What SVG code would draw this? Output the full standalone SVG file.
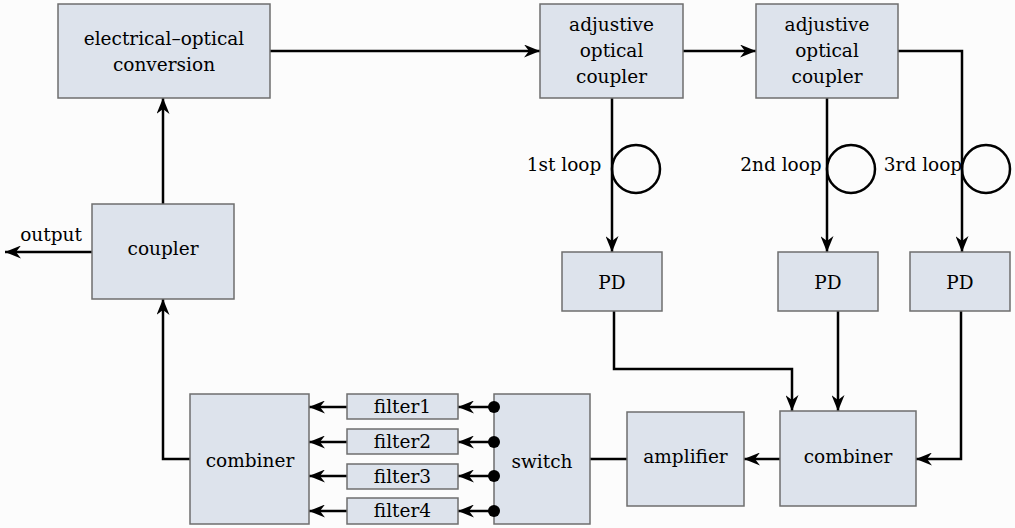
<svg xmlns="http://www.w3.org/2000/svg" width="1015" height="528" viewBox="0 0 1015 528">
  <style>
    .box { fill: #dde3ec; stroke: #6e6e6e; stroke-width: 1.5; }
    .lbl { font-family: 'DejaVu Serif', 'Liberation Serif', serif; font-size: 18.5px; fill: #000; text-anchor: middle; }
    .wire { fill: none; stroke: #000; stroke-width: 2.5; stroke-linejoin: miter; }
    .arr { marker-end: url(#head); }
    .loop { fill: none; stroke: #000; stroke-width: 2.5; }
    .dot { fill: #000; }
  </style>
  <defs>
    <marker id="head" markerUnits="userSpaceOnUse" markerWidth="17" markerHeight="13" refX="16" refY="6.5" orient="auto">
      <path d="M0,0 L16,6.5 L0,13 L5,6.5 Z" fill="#000"/>
    </marker>
  </defs>
  <rect x="0" y="0" width="1015" height="528" fill="#fcfcfc"/>

  <!-- connectors -->
  <g id="connectors">
    <path class="wire arr" d="M270,51 H540"/>
    <path class="wire arr" d="M683,51 H756"/>
    <path class="wire arr" d="M898,51 H962 V252"/>
    <path class="wire arr" d="M612,98 V252"/>
    <path class="wire arr" d="M827,98 V252"/>
    <circle class="loop" cx="636" cy="169" r="24"/>
    <circle class="loop" cx="851" cy="169" r="24"/>
    <circle class="loop" cx="986" cy="169" r="24"/>
    <path class="wire arr" d="M614,311 V369 H792 V411"/>
    <path class="wire arr" d="M838,311 V411"/>
    <path class="wire arr" d="M961,311 V459 H916"/>
    <path class="wire arr" d="M780,459 H744"/>
    <path class="wire" d="M627,459 H590"/>
    <path class="wire arr" d="M590,459 L500,410"/>
    <path class="wire arr" d="M494,407 H458"/>
    <path class="wire arr" d="M494,442 H458"/>
    <path class="wire arr" d="M494,476 H458"/>
    <path class="wire arr" d="M494,511 H458"/>
    <path class="wire arr" d="M347,407 H309"/>
    <path class="wire arr" d="M347,442 H309"/>
    <path class="wire arr" d="M347,476 H309"/>
    <path class="wire arr" d="M347,511 H309"/>
    <path class="wire arr" d="M190,459 H163 V299"/>
    <path class="wire arr" d="M163,204 V98"/>
    <path class="wire arr" d="M92,252 H5"/>
    <text class="lbl" x="51" y="241">output</text>
    <text class="lbl" x="564" y="171">1st loop</text>
    <text class="lbl" x="781" y="171">2nd loop</text>
    <text class="lbl" x="923" y="171">3rd loop</text>
  </g>

  <g id="eo-conversion">
    <rect class="box" x="58" y="4" width="212" height="94"/>
    <text class="lbl" x="164" y="45">electrical–optical</text>
    <text class="lbl" x="164" y="71">conversion</text>
  </g>
  <g id="adj-coupler-1">
    <rect class="box" x="540" y="4" width="143" height="94"/>
    <text class="lbl" x="611.5" y="31">adjustive</text>
    <text class="lbl" x="611.5" y="57">optical</text>
    <text class="lbl" x="611.5" y="83">coupler</text>
  </g>
  <g id="adj-coupler-2">
    <rect class="box" x="756" y="4" width="142" height="94"/>
    <text class="lbl" x="827" y="31">adjustive</text>
    <text class="lbl" x="827" y="57">optical</text>
    <text class="lbl" x="827" y="83">coupler</text>
  </g>
  <g id="pd-1">
    <rect class="box" x="562" y="252" width="100" height="59"/>
    <text class="lbl" x="612" y="289">PD</text>
  </g>
  <g id="pd-2">
    <rect class="box" x="778" y="252" width="100" height="59"/>
    <text class="lbl" x="828" y="289">PD</text>
  </g>
  <g id="pd-3">
    <rect class="box" x="910" y="252" width="100" height="59"/>
    <text class="lbl" x="960" y="289">PD</text>
  </g>
  <g id="coupler">
    <rect class="box" x="92" y="204" width="142" height="95"/>
    <text class="lbl" x="163" y="255">coupler</text>
  </g>
  <g id="combiner-out">
    <rect class="box" x="190" y="394" width="119" height="130"/>
    <text class="lbl" x="250" y="467">combiner</text>
  </g>
  <g id="filter-1">
    <rect class="box" x="347" y="394" width="111" height="25"/>
    <text class="lbl" x="402.5" y="413">filter1</text>
  </g>
  <g id="filter-2">
    <rect class="box" x="347" y="429" width="111" height="25"/>
    <text class="lbl" x="402.5" y="448">filter2</text>
  </g>
  <g id="filter-3">
    <rect class="box" x="347" y="464" width="111" height="25"/>
    <text class="lbl" x="402.5" y="483">filter3</text>
  </g>
  <g id="filter-4">
    <rect class="box" x="347" y="498" width="111" height="26"/>
    <text class="lbl" x="402.5" y="517">filter4</text>
  </g>
  <g id="switch">
    <rect class="box" x="494" y="394" width="96" height="130"/>
    <text class="lbl" x="542" y="468">switch</text>
    <circle class="dot" cx="494" cy="407" r="6"/>
    <circle class="dot" cx="494" cy="442" r="6"/>
    <circle class="dot" cx="494" cy="476" r="6"/>
    <circle class="dot" cx="494" cy="511" r="6"/>
  </g>
  <g id="amplifier">
    <rect class="box" x="627" y="412" width="117" height="94"/>
    <text class="lbl" x="685.5" y="463">amplifier</text>
  </g>
  <g id="combiner-in">
    <rect class="box" x="780" y="411" width="136" height="95"/>
    <text class="lbl" x="848" y="463">combiner</text>
  </g>
</svg>
